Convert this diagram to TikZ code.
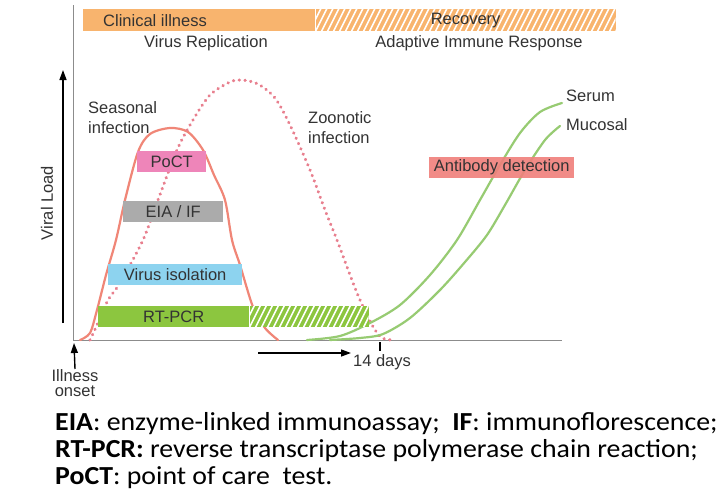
\documentclass[tikz,border=0pt]{standalone}
\usepackage{fontspec}
\usepackage{graphicx}
\setmainfont{Liberation Sans}
\newfontfamily\notefont{Carlito}
\usetikzlibrary{arrows.meta,positioning}
\definecolor{txtgray}{HTML}{333333}
\definecolor{axisgray}{HTML}{8C8C8C}
\definecolor{illorange}{HTML}{F8B46E}
\definecolor{seasred}{HTML}{F08677}
\definecolor{zoopink}{HTML}{E87F8E}
\definecolor{abgreen}{HTML}{97CB72}
\definecolor{pcrgreen}{HTML}{8CC63F}
\definecolor{poctpink}{HTML}{EE85B9}
\definecolor{eiagray}{HTML}{ABABAB}
\definecolor{isoblue}{HTML}{8DD3EF}
\definecolor{abred}{HTML}{F07F7B}

\begin{document}
\begin{tikzpicture}[
  x=1pt,y=-1pt,
  >={Triangle[length=10pt,width=7pt]},
  lbl/.style={font=\fontsize{16.5}{20}\selectfont,text=txtgray,inner sep=0pt},
  testbox/.style={lbl,anchor=north west,minimum height=21pt},
  hatch/.style={path picture={
    \foreach \k in {-6,...,60}
      \draw[white,line width=1.6pt]
        ([xshift=\k*6pt]path picture bounding box.south west) -- ++(13pt,26pt);}},
  curve/.style={line width=2.2pt,line cap=round},
  note/.style={anchor=base west,inner sep=0pt,font=\notefont\fontsize{26}{27}\selectfont}
]
  \useasboundingbox[fill=white] (0,0) rectangle (721,490);

  % axes
  \coordinate (orig) at (73,340);
  \coordinate (ytop) at (73,5);
  \coordinate (xend) at (562,340);
  \draw[axisgray,line width=1pt] (ytop) -- (orig) -- (xend);

  % phases
  \node[testbox,minimum height=22pt,minimum width=232pt,fill=illorange] (clinical) at (83,9) {};
  \node[lbl,anchor=west] at ([xshift=20pt]clinical.west) {Clinical illness};
  \node[testbox,minimum height=22pt,minimum width=300pt,fill=illorange,hatch] (recovery) at (clinical.north east) {Recovery};
  \node[lbl] (replication) at (206,43) {Virus Replication};
  \node[lbl] (adaptive) at (479,43) {Adaptive Immune Response};

  % viral load curves
  \draw[curve,seasred] plot[smooth,tension=0.5] coordinates {
    (80,340) (90,333) (97,310) (106,275) (116,240) (125,200) (138,152)
    (150,134) (170,128) (188,132) (203,150) (214,175) (225,200) (232,240)
    (240,265) (253,307) (265,328) (278,340)};
  \draw[curve,zoopink,line width=3.2pt,dash pattern=on 0.3pt off 5.5pt] plot[smooth,tension=0.5] coordinates {
    (90,340) (97,325) (108,300) (120,283) (143,240) (158,200) (177,150)
    (193,120) (210,95) (230,82) (242,80) (258,84) (275,98) (290,125)
    (310,170) (325,210) (337,240) (350,275) (360,300) (372,325) (382,338) (395,340)};
  \draw[curve,abgreen] plot[smooth,tension=0.5] coordinates {
    (307,340) (340,336) (370,323) (400,305) (430,275) (457,240) (480,200)
    (500,165) (520,133) (540,112) (562,103)};
  \draw[curve,abgreen] plot[smooth,tension=0.5] coordinates {
    (330,340) (360,338) (383,334) (410,318) (440,290) (465,262) (487,235)
    (505,205) (525,170) (545,140) (560,126)};

  \node[lbl,align=left,anchor=west] (seasonal) at (88,118) {Seasonal\\infection};
  \node[lbl,align=left,anchor=west] (zoonotic) at (308,128) {Zoonotic\\infection};
  \node[lbl,anchor=west] (serum) at (566,96) {Serum};
  \node[lbl,anchor=west] (mucosal) at (566,125) {Mucosal};

  % tests
  \node[testbox,minimum width=69pt,fill=poctpink] (poct) at (137,151) {PoCT};
  \node[testbox,minimum width=100pt,fill=eiagray] (eia) at (123,201) {EIA / IF};
  \node[testbox,minimum width=134pt,fill=isoblue] (isolation) at (108,264) {Virus isolation};
  \node[testbox,minimum width=151pt,fill=pcrgreen] (rtpcr) at (98,306) {RT-PCR};
  \node[testbox,minimum width=119pt,fill=pcrgreen,hatch] (rtpcrlate) at (rtpcr.north east) {};
  \node[testbox,minimum width=145pt,fill=abred,fill opacity=0.9,text opacity=1] (antibody) at (429,157) {Antibody detection};

  % viral load axis
  \coordinate (vlbot) at (63,323);
  \coordinate (vltop) at (63,70);
  \draw[->,line width=1.4pt] (vlbot) -- (vltop);
  \node[lbl,rotate=90] (viralload) at (47,203) {Viral Load};

  % time axis
  \node[lbl,align=center,font=\fontsize{16.5}{15.5}\selectfont] (onset) at (75,383) {Illness\\onset};
  \coordinate (onsettip) at (74,343);
  \draw[->,line width=1.4pt] (onset.north) -- (onsettip);
  \coordinate (t0) at (258,353);
  \coordinate (t1) at (351,353);
  \draw[->,line width=1.4pt] (t0) -- (t1);
  \coordinate (tick) at (380,342);
  \draw[line width=1.4pt] (tick) -- ++(0,9);
  \node[lbl] (days) at (382,362) {14 days};

  % abbreviations
  \node[note] (noteeia) at (55,430) {\scalebox{1.07}[1]{\textbf{EIA}: enzyme-linked immunoassay;\ \ \textbf{IF}: immunoflorescence;}};
  \node[note] (notepcr) at (55,457) {\scalebox{1.07}[1]{\textbf{RT-PCR:} reverse transcriptase polymerase chain reaction;}};
  \node[note] (notepoct) at (55,484) {\scalebox{1.07}[1]{\textbf{PoCT}: point of care\ \ test.}};
\end{tikzpicture}
\end{document}
